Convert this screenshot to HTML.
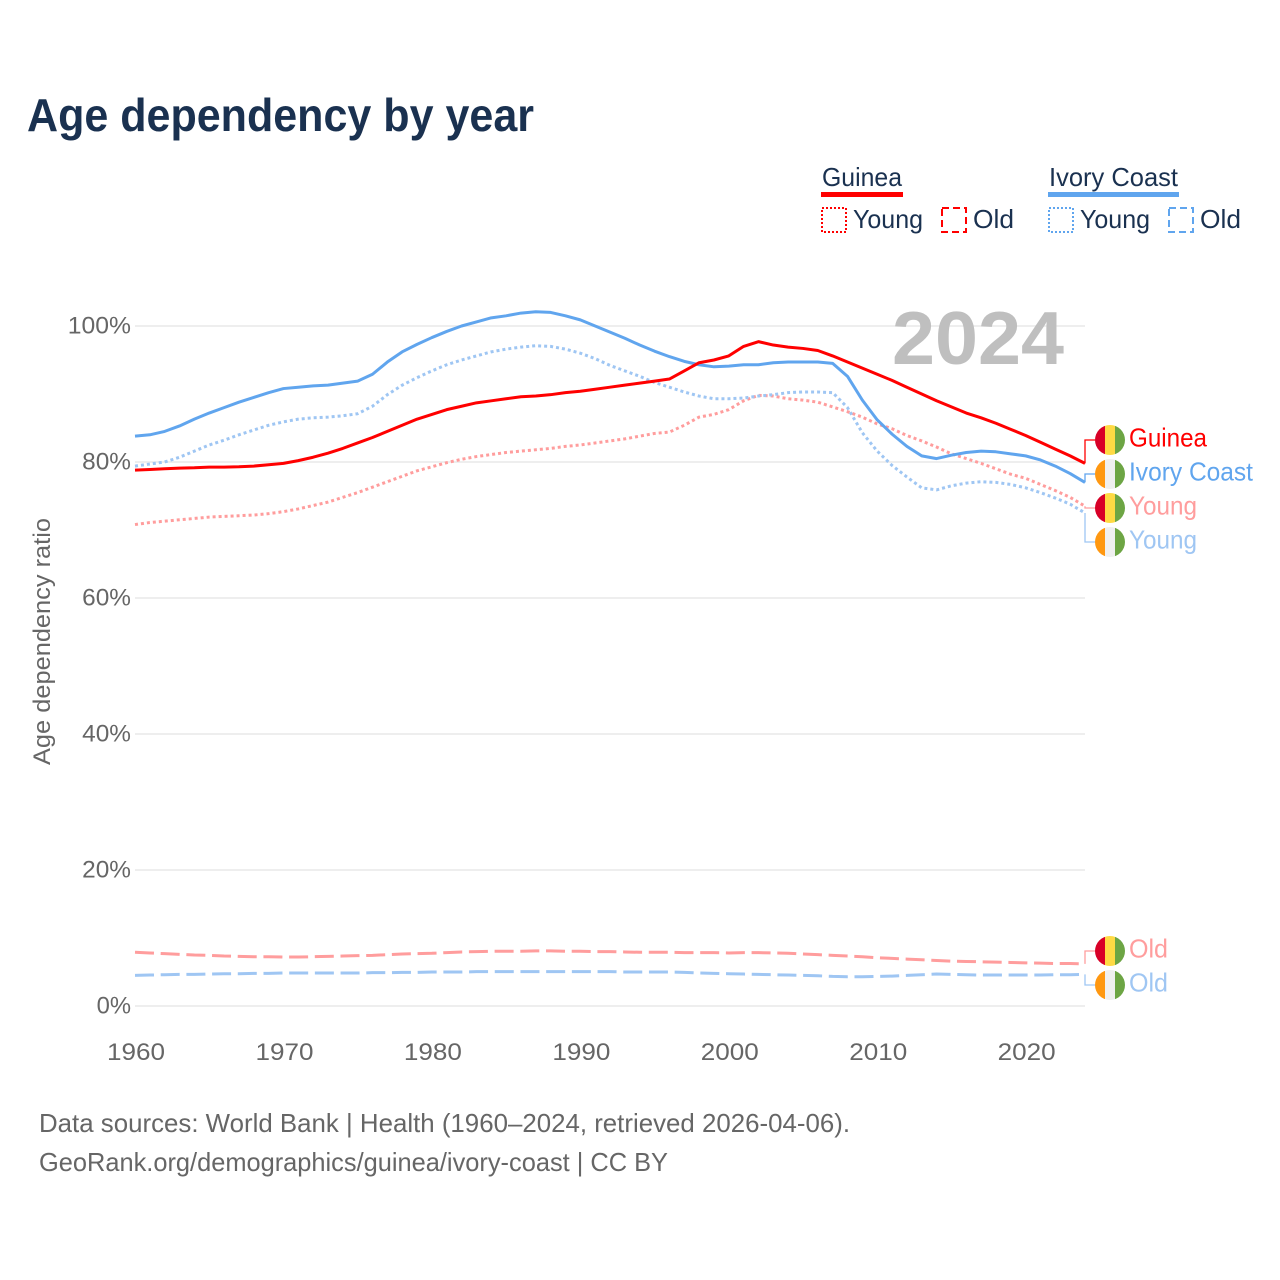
<!DOCTYPE html>
<html lang="en">
<head>
<meta charset="utf-8">
<title>Age dependency by year</title>
<style>
html,body{margin:0;padding:0;background:#fff;width:1280px;height:1280px;overflow:hidden}
svg{display:block;font-family:"Liberation Sans",sans-serif}
</style>
</head>
<body>
<svg id="chart" xmlns="http://www.w3.org/2000/svg" width="1280" height="1280" viewBox="0 0 1280 1280">
  <rect width="1280" height="1280" fill="#fff"/>
  <defs>
    <clipPath id="flag-clip"><circle cx="0" cy="0" r="15"/></clipPath>
    <g id="flag-guinea"><g clip-path="url(#flag-clip)"><rect x="-15" y="-15" width="10" height="30" fill="#d80027"/><rect x="-5" y="-15" width="10" height="30" fill="#ffda44"/><rect x="5" y="-15" width="10" height="30" fill="#6da544"/></g></g>
    <g id="flag-ivory"><g clip-path="url(#flag-clip)"><rect x="-15" y="-15" width="10" height="30" fill="#ff9811"/><rect x="-5" y="-15" width="10" height="30" fill="#f0f0f0"/><rect x="5" y="-15" width="10" height="30" fill="#6da544"/></g></g>
  </defs>

  <text x="27" y="131" font-size="46" font-weight="700" fill="#1a3150" textLength="507" lengthAdjust="spacingAndGlyphs">Age dependency by year</text>

  <g font-size="26" fill="#1a3150">
    <text x="822" y="186" textLength="80" lengthAdjust="spacingAndGlyphs">Guinea</text>
    <rect x="821" y="192" width="82" height="5" fill="#ff0000"/>
    <rect x="822" y="208" width="24" height="24" fill="none" stroke="#ff0000" stroke-width="2" stroke-dasharray="2 2"/>
    <text x="853" y="228" textLength="70" lengthAdjust="spacingAndGlyphs">Young</text>
    <rect x="942" y="208" width="24" height="24" fill="none" stroke="#ff0000" stroke-width="2" stroke-dasharray="7 4"/>
    <text x="973" y="228" textLength="41" lengthAdjust="spacingAndGlyphs">Old</text>
    <text x="1049" y="186" textLength="129" lengthAdjust="spacingAndGlyphs">Ivory Coast</text>
    <rect x="1048" y="192" width="131" height="5" fill="#60a5ee"/>
    <rect x="1049" y="208" width="24" height="24" fill="none" stroke="#60a5ee" stroke-width="2" stroke-dasharray="2 2"/>
    <text x="1080" y="228" textLength="70" lengthAdjust="spacingAndGlyphs">Young</text>
    <rect x="1169" y="208" width="24" height="24" fill="none" stroke="#60a5ee" stroke-width="2" stroke-dasharray="7 4"/>
    <text x="1200" y="228" textLength="41" lengthAdjust="spacingAndGlyphs">Old</text>
  </g>

  <g id="grid"></g>
  <text x="892" y="364" font-size="75" font-weight="700" fill="#bfbfbf" textLength="172" lengthAdjust="spacingAndGlyphs">2024</text>
  <g id="yticks" font-size="24" fill="#666"></g>
  <g id="xticks" font-size="24" fill="#666"></g>
  <text transform="translate(50,765) rotate(-90)" font-size="24" fill="#666" textLength="247" lengthAdjust="spacingAndGlyphs">Age dependency ratio</text>
  <g id="series"></g>
  <g id="endlabels" font-size="26"></g>

  <g font-size="26" fill="#666">
    <text x="39" y="1132" textLength="811" lengthAdjust="spacingAndGlyphs">Data sources: World Bank | Health (1960–2024, retrieved 2026-04-06).</text>
    <text x="39" y="1171" textLength="629" lengthAdjust="spacingAndGlyphs">GeoRank.org/demographics/guinea/ivory-coast | CC BY</text>
  </g>
</svg>
<script>
const firstYear = 1960;
const xTickYears = [1960, 1970, 1980, 1990, 2000, 2010, 2020];
const yTickValues = [0, 20, 40, 60, 80, 100];

const guineaTotal = [78.8,78.9,79.0,79.1,79.15,79.25,79.25,79.3,79.4,79.6,79.8,80.2,80.7,81.3,82.0,82.8,83.6,84.5,85.4,86.3,87.0,87.7,88.2,88.7,89.0,89.3,89.6,89.7,89.9,90.2,90.4,90.7,91.0,91.3,91.6,91.9,92.2,93.4,94.6,95.0,95.6,97.0,97.7,97.2,96.9,96.7,96.4,95.6,94.7,93.8,92.9,92.0,91.0,90.0,89.0,88.1,87.2,86.5,85.7,84.8,83.9,82.9,81.9,80.9,79.8];
const guineaYoung = [70.8,71.1,71.3,71.5,71.7,71.9,72.0,72.1,72.2,72.4,72.7,73.1,73.6,74.1,74.8,75.5,76.3,77.1,77.9,78.7,79.3,79.9,80.4,80.8,81.1,81.4,81.6,81.8,82.0,82.3,82.5,82.8,83.1,83.4,83.8,84.2,84.4,85.4,86.6,87.0,87.7,89.0,89.8,89.7,89.3,89.1,88.8,88.1,87.4,86.6,85.6,84.9,83.9,83.1,82.2,81.2,80.5,79.8,79.0,78.2,77.6,76.7,75.8,74.8,73.5];
const guineaOld = [7.9,7.8,7.7,7.6,7.5,7.45,7.35,7.3,7.25,7.25,7.2,7.2,7.25,7.3,7.35,7.4,7.45,7.55,7.65,7.7,7.75,7.85,7.95,8.0,8.05,8.05,8.05,8.1,8.1,8.05,8.05,8.0,8.0,7.95,7.9,7.9,7.9,7.85,7.85,7.85,7.8,7.85,7.85,7.8,7.75,7.65,7.55,7.45,7.35,7.25,7.1,7.0,6.9,6.8,6.7,6.6,6.55,6.5,6.45,6.4,6.35,6.3,6.25,6.25,6.2];
const ivoryTotal = [83.8,84.0,84.5,85.3,86.3,87.2,88.0,88.8,89.5,90.2,90.8,91.0,91.2,91.3,91.6,91.9,92.9,94.7,96.2,97.3,98.3,99.2,100.0,100.6,101.2,101.5,101.9,102.1,102.0,101.5,100.9,100.0,99.1,98.2,97.2,96.3,95.5,94.8,94.3,94.0,94.1,94.3,94.3,94.6,94.7,94.7,94.7,94.5,92.6,89.1,86.2,84.1,82.3,80.9,80.5,81.0,81.4,81.6,81.5,81.2,80.9,80.3,79.4,78.3,77.0];
const ivoryYoung = [79.4,79.7,80.0,80.7,81.6,82.5,83.2,84.0,84.7,85.4,85.9,86.3,86.5,86.6,86.8,87.1,88.2,89.9,91.3,92.4,93.4,94.3,95.0,95.6,96.2,96.6,96.9,97.1,97.0,96.6,96.0,95.2,94.2,93.4,92.6,91.7,91.0,90.3,89.7,89.3,89.3,89.4,89.7,89.9,90.2,90.3,90.3,90.2,88.0,84.3,81.6,79.5,77.8,76.2,75.9,76.5,76.9,77.1,77.0,76.7,76.2,75.5,74.7,73.8,72.5];
const ivoryOld = [4.5,4.55,4.6,4.65,4.65,4.7,4.75,4.75,4.8,4.8,4.85,4.85,4.85,4.85,4.85,4.85,4.9,4.9,4.95,4.95,5.0,5.0,5.0,5.05,5.05,5.05,5.05,5.05,5.05,5.05,5.05,5.05,5.05,5.0,5.0,5.0,5.0,4.95,4.85,4.8,4.75,4.7,4.65,4.6,4.55,4.5,4.45,4.35,4.3,4.3,4.35,4.4,4.5,4.6,4.7,4.65,4.6,4.55,4.55,4.55,4.55,4.55,4.6,4.6,4.65];

const NS = 'http://www.w3.org/2000/svg';
const xScale = function (year) { return 135 + (year - 1960) * (950 / 64); };
const yScale = function (v) { return 1006 - v * 6.8; };

function make(tag, parent, attrs, text) {
  const el = document.createElementNS(NS, tag);
  for (const k in attrs) el.setAttribute(k, attrs[k]);
  if (text !== undefined) el.textContent = text;
  parent.appendChild(el);
  return el;
}

const gridG = document.getElementById('grid');
const yG = document.getElementById('yticks');
yTickValues.forEach(function (v) {
  const line = make('line', gridG, {x1: 135, x2: 1085, y1: yScale(v), y2: yScale(v), stroke: '#eeeeee', 'stroke-width': 2});
  
  
  const label = make('text', yG, {x: 131, y: yScale(v) + 7.5, 'text-anchor': 'end', textLength: String(v).length * 14.4 + 20, lengthAdjust: 'spacingAndGlyphs'}, v + '%');
  
  
});

const xG = document.getElementById('xticks');
xTickYears.forEach(function (year) {
  const label = make('text', xG, {x: xScale(year) + 1, y: 1060, 'text-anchor': 'middle', textLength: 58, lengthAdjust: 'spacingAndGlyphs'}, String(year));
  
  
});

const seriesG = document.getElementById('series');
const labelG = document.getElementById('endlabels');

function drawSeries(name, values, color, dash, width) {
  const d = values.map(function (v, i) {
    return (i ? 'L' : 'M') + xScale(firstYear + i).toFixed(2) + ' ' + yScale(v).toFixed(2);
  }).join(' ');
  const attrs = {d: d, fill: 'none', stroke: color, 'stroke-width': width, 'stroke-linejoin': 'round'};
  if (dash) attrs['stroke-dasharray'] = dash;
  const path = make('path', seriesG, attrs);
  
  
}

const DOT = '3 3';
const DASH = '19 6.7';
drawSeries('line-guinea-old', guineaOld, '#ff9d9d', DASH, 3);
drawSeries('line-ivory-coast-old', ivoryOld, '#9fc6f3', DASH, 3);
drawSeries('line-guinea-young', guineaYoung, '#ff9d9d', DOT, 3);
drawSeries('line-ivory-coast-young', ivoryYoung, '#9fc6f3', DOT, 3);
drawSeries('line-ivory-coast-total', ivoryTotal, '#60a5ee', null, 3);
drawSeries('line-guinea-total', guineaTotal, '#ff0000', null, 3);

function drawEnd(name, values, flag, labelY, color, text, textW) {
  const last = values[values.length - 1];
  const flagY = labelY;
  const conn = make('path', labelG, {d: 'M1085 ' + yScale(last).toFixed(2) + ' L1085 ' + flagY + ' L1095 ' + flagY, fill: 'none', stroke: color, 'stroke-width': 1.3});
  
  
  const f = make('use', labelG, {href: '#flag-' + flag, transform: 'translate(1110,' + flagY + ')'});
  
  
  const t = make('text', labelG, {x: 1129, y: flagY + 6.5, fill: color, textLength: textW, lengthAdjust: 'spacingAndGlyphs'}, text);
  
  
}

drawEnd('end-guinea-total', guineaTotal, 'guinea', 440, '#ff0000', 'Guinea', 78);
drawEnd('end-ivory-coast-total', ivoryTotal, 'ivory', 474, '#60a5ee', 'Ivory Coast', 124);
drawEnd('end-guinea-young', guineaYoung, 'guinea', 508, '#ff9d9d', 'Young', 68);
drawEnd('end-ivory-coast-young', ivoryYoung, 'ivory', 542, '#9fc6f3', 'Young', 68);
drawEnd('end-guinea-old', guineaOld, 'guinea', 951, '#ff9d9d', 'Old', 39);
drawEnd('end-ivory-coast-old', ivoryOld, 'ivory', 985, '#9fc6f3', 'Old', 39);
</script>
</body>
</html>
